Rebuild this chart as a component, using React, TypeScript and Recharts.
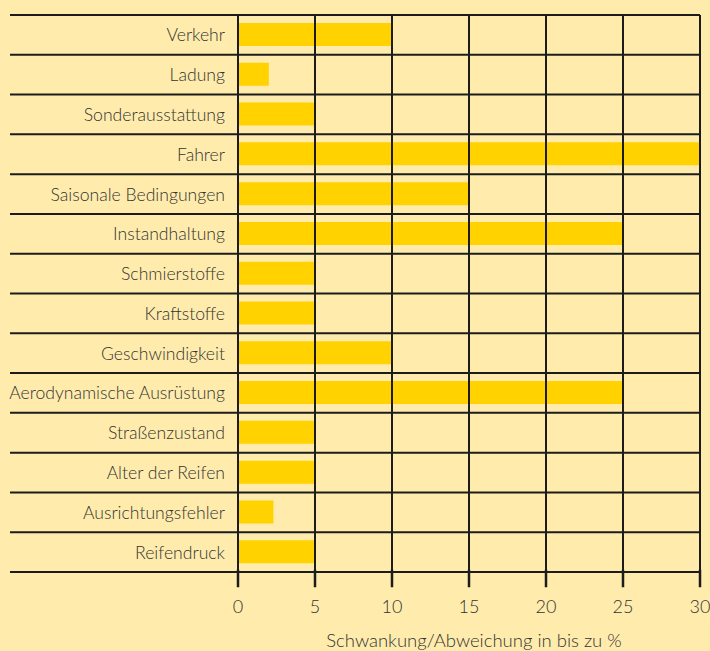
import { Bar, BarChart, ReferenceLine, XAxis, YAxis, Label } from "recharts";

const categories = [
  "Verkehr",
  "Ladung",
  "Sonderausstattung",
  "Fahrer",
  "Saisonale Bedingungen",
  "Instandhaltung",
  "Schmierstoffe",
  "Kraftstoffe",
  "Geschwindigkeit",
  "Aerodynamische Ausrüstung",
  "Straßenzustand",
  "Alter der Reifen",
  "Ausrichtungsfehler",
  "Reifendruck",
];
const values = [10, 2, 5, 30, 15, 25, 5, 5, 10, 25, 5, 5, 2.3, 5];
const xTicks = [0, 5, 10, 15, 20, 25, 30];
const axisTitle = "Schwankung/Abweichung in bis zu %";

const BG = "#FFECAC";
const BAR = "#FFD200";
const INK = "#1c1c1c";
const TEXT = "#333";
const FONT = "Lato, 'Noto Sans', sans-serif";
const TICK_LEN = 15;

const data = categories.map((name, i) => ({ name, value: values[i] }));

// category label plus the row rule above it (and below the last row),
// rules run across the label column too, like the original
function CategoryTick(props: any) {
  const { x, y, payload, index } = props;
  const half = payload?.offset ?? 19.9;
  const last = index === categories.length - 1;
  return (
    <g>
      <line x1={10} x2={700} y1={y - half} y2={y - half} stroke={INK} strokeWidth={2} />
      {last && <line x1={10} x2={700} y1={y + half} y2={y + half} stroke={INK} strokeWidth={2} />}
      <text
        x={x}
        y={y}
        textAnchor="end"
        dominantBaseline="central"
        fill={TEXT}
        fontSize={17.6}
        fontFamily={FONT}
        fontWeight={300}
      >
        {payload.value}
      </text>
    </g>
  );
}

// value tick: stub of the grid rule hanging below the last row, then the number
function ValueTick(props: any) {
  const { x, y, payload } = props;
  const cx = Number(x);
  const ty = Number(y);
  return (
    <g>
      <rect x={cx - 1} y={ty - 30} width={2} height={17} fill={INK} stroke={INK} strokeWidth={0.5} />
      <text
        x={cx}
        y={ty}
        dy="0.71em"
        textAnchor="middle"
        fill={TEXT}
        fontSize={18}
        fontFamily={FONT}
        fontWeight={300}
      >
        {payload.value}
      </text>
    </g>
  );
}

// grid rule over the bars, running on past the bottom row as the tick
function GridRule(props: any) {
  const { x1, y1, x2, y2 } = props;
  const top = Math.min(y1, y2);
  const bottom = Math.max(y1, y2);
  return <line x1={x1} x2={x2} y1={top} y2={bottom + TICK_LEN} stroke={INK} strokeWidth={2} />;
}

export default function App() {
  return (
    <div style={{ position: "absolute", left: 0, top: 0, width: 710, height: 651, background: BG }}>
      <BarChart
        width={710}
        height={651}
        data={data}
        layout="vertical"
        margin={{ top: 15, right: 10, bottom: 0, left: 0 }}
        barCategoryGap={0}
      >
        <YAxis
          type="category"
          dataKey="name"
          width={238}
          axisLine={false}
          tickLine={false}
          tickMargin={7}
          interval={0}
          tick={<CategoryTick />}
        />
        <XAxis
          type="number"
          domain={[0, 30]}
          ticks={xTicks}
          height={79}
          axisLine={false}
          tickSize={TICK_LEN}
          tickLine={false}
          tickMargin={13}
          tick={<ValueTick />}
        >
          <Label
            value={axisTitle}
            position="insideBottom"
            offset={4}
            dx={5}
            fill={TEXT}
            fontSize={18.5}
            fontFamily={FONT}
            fontWeight={300}
          />
        </XAxis>
        <Bar dataKey="value" fill={BAR} barSize={23} isAnimationActive={false} />
        {xTicks.map((t) => (
          <ReferenceLine
            key={t}
            x={t}
            stroke={INK}
            strokeWidth={2}
            ifOverflow="visible"
            shape={<GridRule />}
          />
        ))}
      </BarChart>
    </div>
  );
}
